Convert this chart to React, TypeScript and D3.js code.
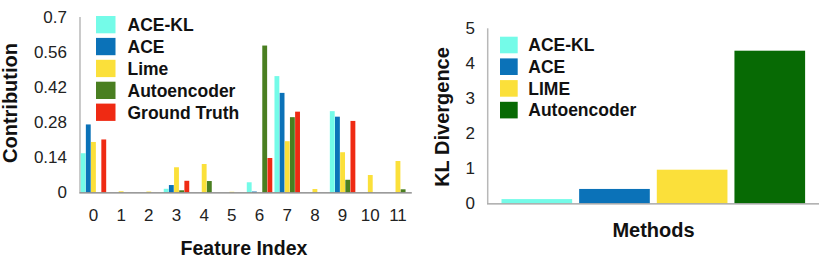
import React from "react";
import * as d3 from "d3";

const features = ["0", "1", "2", "3", "4", "5", "6", "7", "8", "9", "10", "11"];
const seriesNames = ["ACE-KL", "ACE", "Lime", "Autoencoder", "Ground Truth"];
const aceKL = [0.156, 0, 0, 0.014, 0, 0, 0.04, 0.464, 0, 0.324, 0, 0];
const ace = [0.271, 0, 0, 0.029, 0, 0, 0.003, 0.397, 0, 0.302, 0, 0];
const lime = [0.201, 0.004, 0.003, 0.1, 0.113, 0.002, 0, 0.204, 0.013, 0.16, 0.069, 0.125];
const autoencoder = [0, 0, 0, 0.008, 0.045, 0, 0.586, 0.3, 0, 0.05, 0, 0.012];
const groundTruth = [0.211, 0, 0, 0.046, 0, 0, 0.137, 0.322, 0, 0.285, 0, 0];
const leftTicks = [0, 0.14, 0.28, 0.42, 0.56, 0.7];
const leftColors = ["#74fbe8", "#0b72b8", "#fbe03a", "#4a7f21", "#ef2a13"];

const methods = ["ACE-KL", "ACE", "LIME", "Autoencoder"];
const klValues = [0.12, 0.41, 0.96, 4.36];
const rightTicks = [0, 1, 2, 3, 4, 5];
const rightColors = ["#74fbe8", "#0b72b8", "#fbe03a", "#076a04"];

const FONT = "'Liberation Sans', Arial, Helvetica, sans-serif";

export default function App() {
  const series = [aceKL, ace, lime, autoencoder, groundTruth];

  // Left chart
  const lx0 = d3.scaleBand<string>().domain(features).range([79.6, 411.8]).paddingInner(0.079).paddingOuter(0.0395);
  const lx1 = d3.scaleBand<string>().domain(seriesNames).range([0, lx0.bandwidth()]).paddingInner(0.06);
  const ly = d3.scaleLinear().domain([0, 0.7]).range([192.3, 17]);

  // Right chart
  const rx = d3.scaleBand<string>().domain(methods).range([498, 808.6]).paddingInner(0.09).paddingOuter(0.045);
  const ry = d3.scaleLinear().domain([0, 5]).range([203.3, 28.3]);

  return (
    <svg width={830} height={266} style={{ position: "absolute", left: 0, top: 0, background: "#fff" }} fontFamily={FONT}>
      {/* LEFT CHART */}
      <line x1={80} x2={80} y1={ly(0.7)} y2={ly(0)} stroke="#b8b8b8" strokeWidth={1.5} />
      {series.map((vals, j) =>
        vals.map((v, i) =>
          v > 0 ? (
            <rect
              key={`l-${j}-${i}`}
              x={(lx0(features[i]) as number) + (lx1(seriesNames[j]) as number)}
              y={ly(v)}
              width={lx1.bandwidth()}
              height={ly(0) - ly(v)}
              fill={leftColors[j]}
            />
          ) : null
        )
      )}
      <line x1={79.3} x2={411.8} y1={ly(0) + 0.5} y2={ly(0) + 0.5} stroke="#7a7a7a" strokeWidth={1.3} />
      {leftTicks.map((t) => (
        <text key={`lt-${t}`} x={67} y={ly(t)} dy="0.36em" textAnchor="end" fontSize={17} fill="#222">
          {String(t)}
        </text>
      ))}
      {features.map((f) => (
        <text
          key={`lf-${f}`}
          x={(lx0(f) as number) + lx0.bandwidth() / 2}
          y={214.5}
          dy="0.36em"
          textAnchor="middle"
          fontSize={17}
          fill="#222"
        >
          {f}
        </text>
      ))}
      <text x={244} y={248} dy="0.36em" textAnchor="middle" fontSize={19.5} fontWeight="bold" fill="#111">
        Feature Index
      </text>
      <text
        transform={`translate(10,103) rotate(-90)`}
        dy="0.36em"
        textAnchor="middle"
        fontSize={20}
        fontWeight="bold"
        fill="#111"
      >
        Contribution
      </text>
      {seriesNames.map((n, j) => (
        <g key={`ll-${n}`} transform={`translate(96,${16 + j * 21.9})`}>
          <rect width={19.5} height={17.3} fill={leftColors[j]} />
          <text x={31.5} y={8.8} dy="0.36em" fontSize={17.5} fontWeight="bold" fill="#111">
            {n}
          </text>
        </g>
      ))}

      {/* RIGHT CHART */}
      <line x1={487.7} x2={487.7} y1={ry(5)} y2={ry(0)} stroke="#b8b8b8" strokeWidth={1.5} />
      {methods.map((m, i) => (
        <rect
          key={`r-${m}`}
          x={rx(m) as number}
          y={ry(klValues[i])}
          width={rx.bandwidth()}
          height={ry(0) - ry(klValues[i])}
          fill={rightColors[i]}
        />
      ))}
      <line x1={487} x2={819} y1={ry(0) + 0.5} y2={ry(0) + 0.5} stroke="#9a9a9a" strokeWidth={1.3} />
      {rightTicks.map((t) => (
        <text key={`rt-${t}`} x={475} y={ry(t)} dy="0.36em" textAnchor="end" fontSize={17} fill="#222">
          {String(t)}
        </text>
      ))}
      <text x={653.5} y={229.5} dy="0.36em" textAnchor="middle" fontSize={20} fontWeight="bold" fill="#111">
        Methods
      </text>
      <text
        transform={`translate(442,117) rotate(-90)`}
        dy="0.36em"
        textAnchor="middle"
        fontSize={20}
        fontWeight="bold"
        fill="#111"
      >
        KL Divergence
      </text>
      {methods.map((n, j) => (
        <g key={`rl-${n}`} transform={`translate(500,${36.7 + j * 21.7})`}>
          <rect width={17.7} height={16.6} fill={rightColors[j]} />
          <text x={28.3} y={8.3} dy="0.36em" fontSize={17.5} fontWeight="bold" fill="#111">
            {n}
          </text>
        </g>
      ))}
    </svg>
  );
}
